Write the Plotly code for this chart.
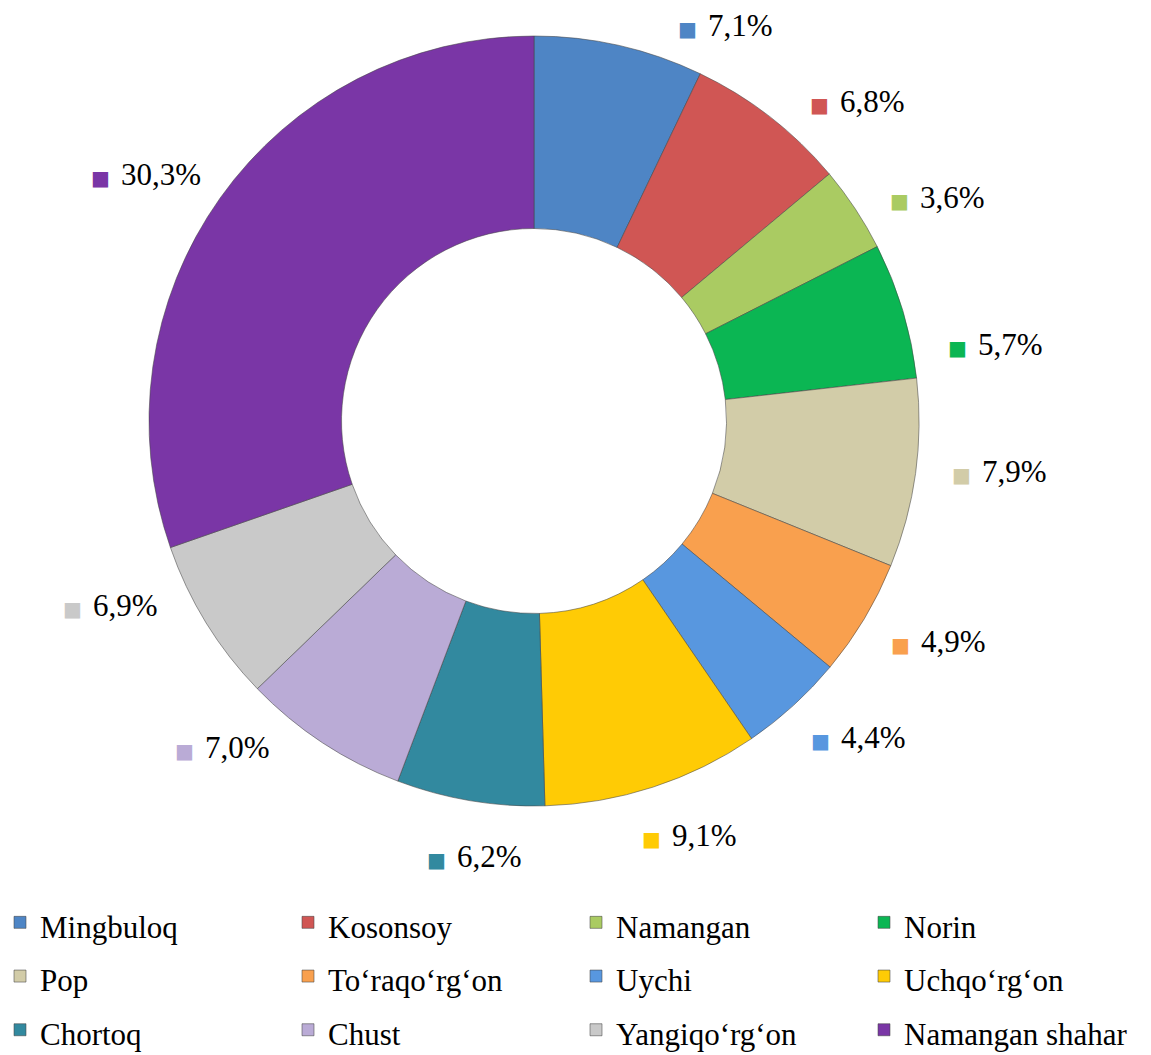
import math
import plotly.graph_objects as go

# ---- data ----
districts = ["Mingbuloq", "Kosonsoy", "Namangan", "Norin", "Pop", "To‘raqo‘rg‘on",
             "Uychi", "Uchqo‘rg‘on", "Chortoq", "Chust", "Yangiqo‘rg‘on", "Namangan shahar"]
shares = [7.1, 6.8, 3.6, 5.7, 7.9, 4.9, 4.4, 9.1, 6.2, 7.0, 6.9, 30.3]
share_labels = ["7,1%", "6,8%", "3,6%", "5,7%", "7,9%", "4,9%",
                "4,4%", "9,1%", "6,2%", "7,0%", "6,9%", "30,3%"]

# ---- styles / layout ----
colors = ["#4E85C5", "#D05654", "#AACB62", "#0BB653", "#D2CCA8", "#F9A04E",
          "#5897DF", "#FFCB05", "#32899F", "#BAABD6", "#C9C9C9", "#7A36A6"]
label_angle_nudge = [12.6, 7.6, 4.5, 7.4, -1.5, -2.2, -3.2, -2.4, -1.7, 10.3, 8.0, -3.1]

W, H = 1151, 1055
CX, CY, R = 534, 421, 385
LAB_A, LAB_B = 468, 440      # label ring (polar ellipse), px
LAB_DY = -5                  # text-box vertical correction, px
FONT = "Liberation Serif"
LEG_FS = 39

fig = go.Figure(go.Pie(
    labels=[f"<span style='font-size:31px'>{d}</span>" for d in districts],
    values=shares,
    hole=0.5,
    sort=False,
    direction="clockwise",
    rotation=0,
    textinfo="none",
    marker=dict(colors=colors, line=dict(color="rgba(70,70,70,0.55)", width=1)),
    domain=dict(x=[(CX - R) / W, (CX + R) / W], y=[1 - (CY + R) / H, 1 - (CY - R) / H]),
    hoverinfo="label+percent",
))

# data labels placed around the ring from each slice's mid-angle
total = sum(shares)
cum = 0.0
annotations = []
for v, lab, col, nud in zip(shares, share_labels, colors, label_angle_nudge):
    mid = (cum + v / 2) / total * 360.0 + nud
    cum += v
    a = math.radians(mid)
    r = LAB_A * LAB_B / math.hypot(LAB_B * math.sin(a), LAB_A * math.cos(a))
    px = CX + r * math.sin(a)
    py = max(CY - r * math.cos(a), 27) + LAB_DY
    annotations.append(dict(
        x=px / W, y=1 - py / H, xref="paper", yref="paper",
        xanchor="center", yanchor="middle", showarrow=False,
        text=(f"<span style='color:{col};font-size:20px;font-family:DejaVu Sans'>■</span>"
              f"<span style='font-size:44px'> </span>"
              f"<span style='font-family:Liberation Serif'>{lab}</span>"),
        font=dict(family=FONT, size=31, color="black"),
    ))

fig.update_layout(
    width=W, height=H,
    margin=dict(l=0, r=0, t=0, b=0, autoexpand=False),
    paper_bgcolor="white", plot_bgcolor="white",
    annotations=annotations,
    showlegend=True,
    legend=dict(
        orientation="h",
        x=0, xanchor="left",
        y=1 - 890.5 / H, yanchor="top",
        entrywidth=243, entrywidthmode="pixels",
        font=dict(family=FONT, size=LEG_FS, color="black"),
        traceorder="normal",
    ),
)

fig.write_html("out.html", config={"displayModeBar": False},
               post_script="document.body.style.margin='0';")
